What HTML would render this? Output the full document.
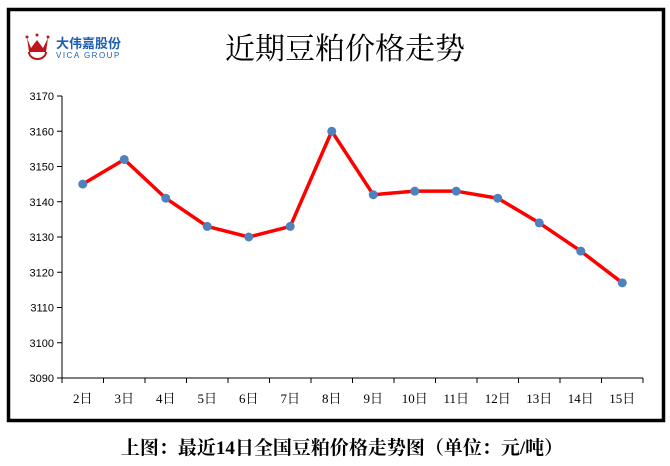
<!DOCTYPE html>
<html><head><meta charset="utf-8"><style>
body{margin:0;background:#fff;width:670px;height:461px;overflow:hidden;font-family:"Liberation Serif","Noto Serif CJK SC",serif}
</style></head><body>
<svg width="670" height="461" xmlns="http://www.w3.org/2000/svg">
<rect x="8.5" y="9.5" width="655" height="411" fill="#fff" stroke="#000" stroke-width="3.5"/>
<g>
<path d="M27 38 L31 48 L37 40 L43 48 L48 38 L46 52 L29 52 Z" fill="#c0141c"/>
<circle cx="27" cy="37" r="1.5" fill="#c0141c"/><circle cx="37" cy="35" r="1.5" fill="#c0141c"/><circle cx="48" cy="37" r="1.5" fill="#c0141c"/>
<path d="M29 52 A8.5 7 0 0 0 46 52" fill="none" stroke="#c0141c" stroke-width="2"/>
<text x="56" y="48" font-family="'Noto Sans CJK SC',sans-serif" font-size="13" font-weight="bold" fill="#1f5fb0">大伟嘉股份</text>
<text x="56" y="58" font-family="'Liberation Sans',sans-serif" font-size="8" letter-spacing="1.5" fill="#1f5fb0">VICA GROUP</text>
</g>
<text x="345" y="59" text-anchor="middle" font-size="30" font-family="'Noto Serif CJK SC',serif">近期豆粕价格走势</text>
<g id="axes"></g>
<g id="series"></g>
<text x="342" y="454" text-anchor="middle" font-size="19" font-weight="bold" font-family="'Liberation Serif','Noto Serif CJK SC',serif">上图：最近14日全国豆粕价格走势图（单位：元/吨）</text>
</svg>
<script>
const categories=["2日","3日","4日","5日","6日","7日","8日","9日","10日","11日","12日","13日","14日","15日"];
const prices=[3145,3152,3141,3133,3130,3133,3160,3142,3143,3143,3141,3134,3126,3117];
const yTicks=[3090,3100,3110,3120,3130,3140,3150,3160,3170];
const NS="http://www.w3.org/2000/svg";
const X0=62,X1=643,Y0=378,Y1=96,YMIN=3090,YMAX=3170;
const bw=(X1-X0)/categories.length;
const xs=i=>X0+bw*(i+0.5);
const ys=v=>Y0-(v-YMIN)/(YMAX-YMIN)*(Y0-Y1);
function mk(t,a,p){const e=document.createElementNS(NS,t);for(const k in a)e.setAttribute(k,a[k]);p.appendChild(e);return e;}
const ax=document.getElementById('axes'),se=document.getElementById('series');
const ya=mk('line',{x1:X0,y1:Y1,x2:X0,y2:Y0,stroke:'#000'},ax);


const xa=mk('line',{x1:X0,y1:Y0,x2:X1,y2:Y0,stroke:'#000'},ax);


yTicks.forEach(v=>{const y=ys(v);mk('line',{x1:X0-5,y1:y,x2:X0,y2:y,stroke:'#000'},ax);
const t=mk('text',{x:X0-8,y:y+4,'text-anchor':'end','font-size':11,'font-family':"'Liberation Sans',sans-serif"},ax);t.textContent=v;

});
for(let i=0;i<=categories.length;i++){const x=X0+bw*i;mk('line',{x1:x,y1:Y0,x2:x,y2:Y0+5,stroke:'#000'},ax);}
categories.forEach((c,i)=>{const t=mk('text',{x:xs(i),y:Y0+25,'text-anchor':'middle','font-size':13},ax);t.textContent=c;

});
const pl=mk('polyline',{points:prices.map((v,i)=>xs(i)+','+ys(v)).join(' '),fill:'none',stroke:'#ff0000','stroke-width':3.5,'stroke-linejoin':'round'},se);


prices.forEach((v,i)=>{const c=mk('circle',{cx:xs(i),cy:ys(v),r:4.5,fill:'#4f81bd'},se);

});
</script>
</body></html>
